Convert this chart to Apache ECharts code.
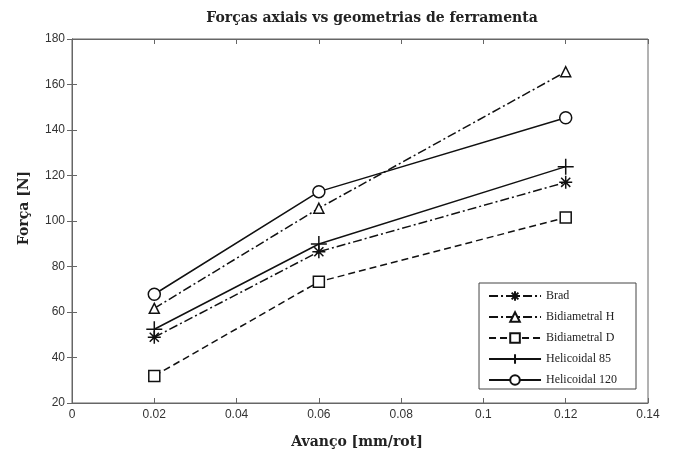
<!DOCTYPE html>
<html><head><meta charset="utf-8">
<script src="https://cdn.jsdelivr.net/npm/echarts@6/dist/echarts.min.js"></script>
<style>html,body{margin:0;padding:0;background:#fff}#c{width:675px;height:457px}</style>
</head><body><div id="c"></div>
<script>
const xValues = [0.02, 0.06, 0.12];
const seriesNames = ['Brad', 'Bidiametral H', 'Bidiametral D', 'Helicoidal 85', 'Helicoidal 120'];
const brad = [48.9, 86.5, 117];
const bidiametralH = [61.6, 105.6, 165.6];
const bidiametralD = [31.9, 73.3, 101.5];
const helicoidal85 = [52.4, 89.9, 123.9];
const helicoidal120 = [67.8, 112.9, 145.4];
const xTicks = [0, 0.02, 0.04, 0.06, 0.08, 0.1, 0.12, 0.14];
const yTicks = [20, 40, 60, 80, 100, 120, 140, 160, 180];

const values = [brad, bidiametralH, bidiametralD, helicoidal85, helicoidal120];
const dashes = [[9,3,2,3],[9,3,2,3],[7,4],'solid','solid'];
const symbols = [
  'path://M0,-10L0,10M-10,0L10,0M-7,-7L7,7M-7,7L7,-7',
  'triangle',
  'rect',
  'path://M0,-10L0,10M-10,0L10,0',
  'circle'
];
const sizes = [13, 10, 11, 16, 12];

const chart = echarts.init(document.getElementById('c'));
const serif = 'Liberation Serif';
const wideSerif = 'DejaVu Serif';
const series = seriesNames.map((n, i) => ({
  name: n,
  type: 'line',
  xAxisIndex: 0, yAxisIndex: 0,
  data: xValues.map((x, j) => [x, values[i][j]]),
  symbol: symbols[i],
  symbolSize: sizes[i],
  showAllSymbol: true,
  lineStyle: { color: '#111', width: 1.5, type: dashes[i] },
  itemStyle: { color: '#fff', borderColor: '#111', borderWidth: 1.5 },
  emphasis: { disabled: true },
  animation: false
}));

const tickStyle = { show: true, inside: true, length: 5, lineStyle: { color: '#666' } };

chart.setOption({
  animation: false,
  title: {
    text: 'Forças axiais vs geometrias de ferramenta',
    left: 367, top: 6, textAlign: 'center',
    textStyle: { fontFamily: wideSerif, fontWeight: 'bold', fontSize: 14, color: '#222' }
  },
  grid: { left: 72, right: 27, top: 39, bottom: 54, show: true, borderColor: '#666', borderWidth: 1 },
  legend: {
    orient: 'vertical', right: 39, bottom: 68,
    backgroundColor: '#fff', borderColor: '#444', borderWidth: 1,
    padding: [7, 19, 3, 9], itemGap: 9, itemWidth: 52, itemHeight: 12,
    textStyle: { fontFamily: serif, fontSize: 12, color: '#222' },
    data: seriesNames
  },
  xAxis: [{
    type: 'value', min: 0, max: 0.14, interval: 0.02,
    name: 'Avanço [mm/rot]', nameLocation: 'middle', nameGap: 32,
    nameTextStyle: { fontFamily: wideSerif, fontWeight: 'bold', fontSize: 14, color: '#222', padding: [0, 6, 0, 0] },
    axisLine: { lineStyle: { color: '#666' } },
    axisTick: tickStyle,
    axisLabel: { fontFamily: 'Liberation Sans', fontSize: 12, color: '#333', margin: 6,
      formatter: v => xTicks.includes(+v.toFixed(2)) ? String(+v.toFixed(2)) : '' },
    splitLine: { show: false }
  }, {
    type: 'value', min: 0, max: 0.14, interval: 0.02, position: 'top',
    axisLine: { lineStyle: { color: '#666' } },
    axisTick: tickStyle,
    axisLabel: { show: false }, splitLine: { show: false }
  }],
  yAxis: [{
    type: 'value', min: 20, max: 180, interval: 20, position: 'left',
    name: 'Força [N]', nameLocation: 'middle', nameGap: 41,
    nameTextStyle: { fontFamily: wideSerif, fontWeight: 'bold', fontSize: 14, color: '#222', padding: [0, 0, 0, 26] },
    axisLine: { show: true, lineStyle: { color: '#666' } },
    axisTick: tickStyle,
    axisLabel: { fontFamily: 'Liberation Sans', fontSize: 12, color: '#333', margin: 7,
      formatter: v => yTicks.includes(v) ? String(v) : '' },
    splitLine: { show: false }
  }, {
    type: 'value', min: 20, max: 180, interval: 20, position: 'right',
    axisLine: { show: true, lineStyle: { color: '#666' } },
    axisTick: tickStyle,
    axisLabel: { show: false }, splitLine: { show: false }
  }],
  series: series
});
</script></body></html>
